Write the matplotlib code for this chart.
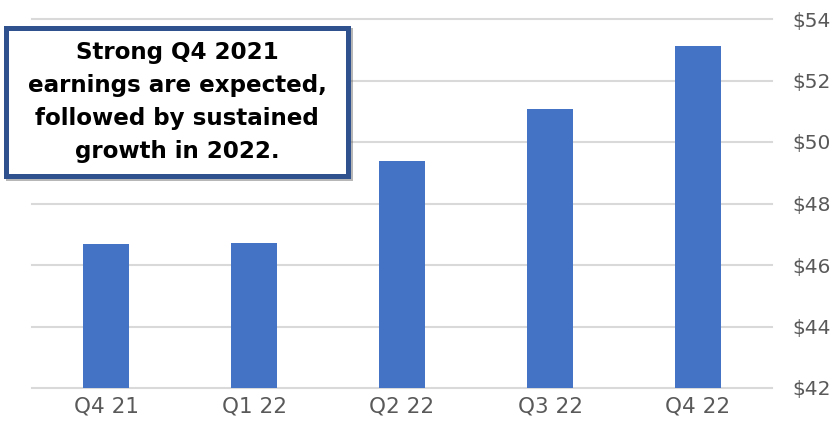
import matplotlib
matplotlib.use("Agg")
from matplotlib import pyplot as plt
from matplotlib.patches import Rectangle, Shadow

quarters = ["Q4 21", "Q1 22", "Q2 22", "Q3 22", "Q4 22"]
eps = [46.69, 46.73, 49.39, 51.08, 53.12]
yticks = [42, 44, 46, 48, 50, 52, 54]
note = "Strong Q4 2021\nearnings are expected,\nfollowed by sustained\ngrowth in 2022."

W, H = 836, 432
fig = plt.figure(figsize=(W / 100, H / 100), dpi=100)
ax = fig.add_axes([32 / W, 44 / H, 740 / W, 369 / H])

ax.bar(range(len(quarters)), eps, width=0.31, color="#4472C4", zorder=3)
ax.set_xlim(-0.5, len(quarters) - 0.5)
ax.set_ylim(42, 54)
ax.set_xticks(range(len(quarters)))
ax.set_xticklabels(quarters)
ax.set_yticks(yticks)
ax.set_yticklabels([f"${v}" for v in yticks])
ax.yaxis.tick_right()
ax.grid(axis="y", color="#D9D9D9", linewidth=1.5, zorder=0)
# keep the top and bottom gridlines from being cut in half at the axes edge
for gl in ax.get_ygridlines():
    gl.set_clip_on(False)
for s in ax.spines.values():
    s.set_visible(False)
ax.tick_params(axis="both", length=0, labelcolor="#595959")
ax.tick_params(axis="x", labelsize=15.5, pad=6)
ax.tick_params(axis="y", labelsize=14.5, pad=14.5)

# callout box in the upper left
box = Rectangle((6 / W, 1 - 176 / H), 342 / W, 148 / H, transform=fig.transFigure,
                facecolor="white", edgecolor="#2F528F", linewidth=3.6, zorder=5)
shadow = Shadow(box, 1.5 / W, -1.5 / H, facecolor="#b0b0b0", alpha=0.4, zorder=4)
fig.add_artist(shadow)
fig.add_artist(box)
fig.text(177 / W, 1 - 102 / H, note, ha="center", va="center", fontsize=16.6,
         fontweight="bold", color="black", linespacing=1.55, zorder=6)

fig.savefig("out.png", dpi=100)
